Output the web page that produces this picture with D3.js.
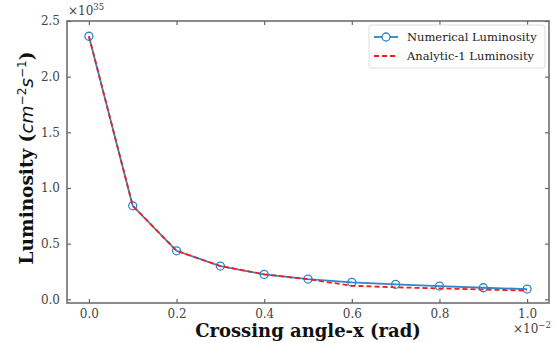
<!DOCTYPE html>
<html lang="en">
<head>
<meta charset="UTF-8">
<script src="https://d3js.org/d3.v7.min.js"></script>
<style>
  body { margin: 0; background: #fff; }
  svg text { font-family: "DejaVu Serif", serif; }
</style>
</head>
<body>
<div id="chart_area"></div>
<script>
// crossing angle in units of 1e-2 rad
var angles = [0.0, 0.1, 0.2, 0.3, 0.4, 0.5, 0.6, 0.7, 0.8, 0.9, 1.0];
// luminosity in units of 1e35
var numerical = [2.363, 0.840, 0.436, 0.299, 0.224, 0.182, 0.153, 0.135, 0.119, 0.104, 0.092];
var analytic = [2.363, 0.840, 0.436, 0.299, 0.224, 0.180, 0.122, 0.108, 0.098, 0.088, 0.078];
var xTicks = [0.0, 0.2, 0.4, 0.6, 0.8, 1.0];
var yTicks = [0.0, 0.5, 1.0, 1.5, 2.0, 2.5];
var seriesNames = ["Numerical Luminosity", "Analytic-1 Luminosity"];

var W = 555, H = 343;
var plotLeft = 67, plotRight = 549, plotTop = 21, plotBottom = 303;
var axisColor = "#666", tickTextColor = "#444";
var blue = "#2f86c8", red = "#ff1a1a";

var svg = d3.select("#chart_area").append("svg")
  .attr("width", W).attr("height", H);

var x = d3.scaleLinear().domain([-0.05, 1.05]).range([plotLeft, plotRight]);
var y = d3.scaleLinear().domain([-0.033, 2.5]).range([plotBottom, plotTop]);

// frame
svg.append("rect")
  .attr("x", plotLeft).attr("y", plotTop)
  .attr("width", plotRight - plotLeft).attr("height", plotBottom - plotTop)
  .attr("fill", "none").attr("stroke", axisColor).attr("stroke-width", 1.5);

// inward ticks on all sides
function fmt(d) { return d3.format(".1f")(d); }
var bottomAxis = svg.append("g").attr("transform", "translate(0," + plotBottom + ")")
  .call(d3.axisBottom(x).tickValues(xTicks).tickSize(-4).tickPadding(6).tickFormat(fmt));
var topAxis = svg.append("g").attr("transform", "translate(0," + plotTop + ")")
  .call(d3.axisTop(x).tickValues(xTicks).tickSize(-4).tickFormat(""));
var leftAxis = svg.append("g").attr("transform", "translate(" + plotLeft + ",0)")
  .call(d3.axisLeft(y).tickValues(yTicks).tickSize(-4).tickPadding(7).tickFormat(fmt));
var rightAxis = svg.append("g").attr("transform", "translate(" + plotRight + ",0)")
  .call(d3.axisRight(y).tickValues(yTicks).tickSize(-4).tickFormat(""));

[bottomAxis, topAxis, leftAxis, rightAxis].forEach(function(a) {
  a.select(".domain").remove();
  a.selectAll(".tick line").attr("stroke", axisColor).attr("stroke-width", 1.2);
  a.selectAll(".tick text")
    .attr("fill", tickTextColor)
    .style("font-family", "'DejaVu Serif', serif")
    .style("font-size", "12px");
});

// lines
var line = d3.line()
  .x(function(d, i) { return x(angles[i]); })
  .y(function(d) { return y(d); });

svg.append("path").datum(numerical)
  .attr("d", line).attr("fill", "none")
  .attr("stroke", blue).attr("stroke-width", 1.8);

svg.selectAll(".marker").data(numerical).enter().append("circle")
  .attr("class", "marker")
  .attr("cx", function(d, i) { return x(angles[i]); })
  .attr("cy", function(d) { return y(d); })
  .attr("r", 4)
  .attr("fill", "none").attr("stroke", blue).attr("stroke-width", 1.3);

svg.append("path").datum(analytic)
  .attr("d", line).attr("fill", "none")
  .attr("stroke", red).attr("stroke-width", 1.8)
  .attr("stroke-dasharray", "5,3");

// multipliers
var m1 = svg.append("text").attr("x", 68).attr("y", 15)
  .attr("fill", tickTextColor).style("font-size", "12px");
m1.append("tspan").text("×10");
m1.append("tspan").attr("dy", -5).style("font-size", "8.5px").text("35");

var m2 = svg.append("text").attr("x", 513).attr("y", 333)
  .attr("fill", tickTextColor).style("font-size", "12px");
m2.append("tspan").text("×10");
m2.append("tspan").attr("dy", -5).style("font-size", "8.5px").text("−2");

// axis labels
svg.append("text")
  .attr("x", (plotLeft + plotRight) / 2).attr("y", 337)
  .attr("text-anchor", "middle")
  .style("font-size", "18px").style("font-weight", "bold").attr("fill", "#111")
  .text("Crossing angle-x (rad)");

var yl = svg.append("text")
  .attr("transform", "translate(33," + ((plotTop + plotBottom) / 2 - 4) + ") rotate(-90)")
  .attr("text-anchor", "middle")
  .style("font-size", "18.5px").style("font-weight", "bold").attr("fill", "#111");
yl.append("tspan").text("Luminosity (");
yl.append("tspan").style("font-family", "'DejaVu Sans', sans-serif")
  .style("font-style", "italic").style("font-weight", "normal").text("cm");
yl.append("tspan").attr("dy", -7).style("font-size", "12px")
  .style("font-family", "'DejaVu Sans', sans-serif").style("font-weight", "normal").text("−2");
yl.append("tspan").attr("dy", 7).style("font-family", "'DejaVu Sans', sans-serif")
  .style("font-style", "italic").style("font-weight", "normal").text("s");
yl.append("tspan").attr("dy", -7).style("font-size", "12px")
  .style("font-family", "'DejaVu Sans', sans-serif").style("font-weight", "normal").text("−1");
yl.append("tspan").attr("dy", 7).text(")");

// legend
var lg = svg.append("g").attr("transform", "translate(369,25)");
lg.append("rect").attr("width", 176).attr("height", 43).attr("rx", 3)
  .attr("fill", "#fff").attr("stroke", "#ddd").attr("stroke-width", 1);
seriesNames.forEach(function(name, i) {
  var yy = 12 + i * 19;
  var row = lg.append("g");
  if (i === 0) {
    row.append("line").attr("x1", 5).attr("x2", 29).attr("y1", yy).attr("y2", yy)
      .attr("stroke", blue).attr("stroke-width", 1.8);
    row.append("circle").attr("cx", 17).attr("cy", yy).attr("r", 4)
      .attr("fill", "#fff").attr("stroke", blue).attr("stroke-width", 1.3);
  } else {
    row.append("line").attr("x1", 5).attr("x2", 29).attr("y1", yy).attr("y2", yy)
      .attr("stroke", red).attr("stroke-width", 1.8).attr("stroke-dasharray", "5,3");
  }
  row.append("text").attr("x", 38).attr("y", yy + 4)
    .style("font-size", "11.5px").attr("fill", "#222").text(name);
});
</script>
</body>
</html>
